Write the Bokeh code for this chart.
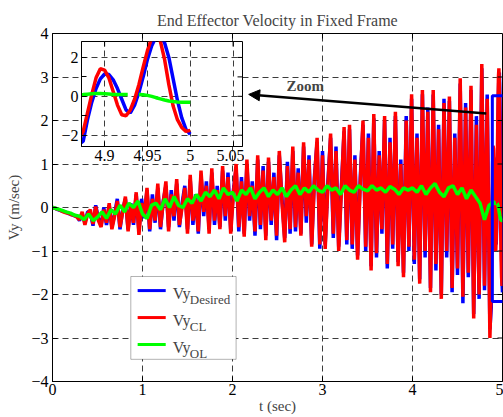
import numpy as np
from bokeh.plotting import figure
from bokeh.models import (ColumnDataSource, FixedTicker, Range1d,
                          Arrow, NormalHead, Label, BoxAnnotation)
from bokeh.embed import file_html
from bokeh.resources import INLINE

FONT = "Liberation Serif"

# ---- data -------------------------------------------------------------
# coarse samples (every 0.03 s) up to 4.86 s
t_coarse = np.round(np.arange(0.0, 4.861, 0.03), 3)

vy_desired_coarse = [
    0.0, -0.02, -0.05, -0.07, -0.09, -0.11, -0.14, -0.16, -0.19, -0.2,
    -0.3, -0.15, -0.35, -0.1, -0.1, -0.42, 0.05, -0.25, -0.4, 0.0,
    -0.4, 0.05, -0.45, -0.15, 0.2, -0.5, -0.05, 0.2, -0.5, 0.1,
    -0.4, 0.3, -0.55, 0.2, -0.25, 0.4, -0.55, 0.3, -0.35, 0.45,
    -0.5, 0.15, 0.5, -0.45, 0.4, -0.3, 0.55, -0.45, 0.1, 0.5,
    -0.5, 0.65, -0.4, 0.3, -0.6, 0.75, -0.2, 0.6, -0.5, 0.8,
    -0.4, 0.5, -0.45, 0.85, -0.3, 0.8, -0.5, 0.4, 0.9, -0.55,
    0.7, -0.6, 1.0, -0.3, 0.6, -0.65, 1.1, -0.5, 0.95, -0.65,
    1.05, -0.4, 0.8, -0.75, 1.2, 0.2, -0.7, 1.05, -0.6, 1.3,
    -0.55, 0.9, -0.6, 1.4, -0.35, 1.2, -0.85, 0.7, 1.5, -0.95,
    1.3, -0.85, 0.6, 1.6, -0.7, 1.4, -0.9, 0.5, 1.75, -0.85,
    1.8, -0.95, 1.2, -1.1, 0.7, 1.9, -1.0, 1.7, -1.35, 2.05,
    -1.15, 1.3, -0.6, 2.0, -1.4, 1.6, -0.95, 2.1, -1.25, 1.1,
    -1.5, 2.1, -1.0, 2.5, -1.3, 1.7, -1.65, 2.6, -1.15, 2.3,
    -1.85, 2.6, -1.45, 1.9, -2.0, 2.5, -1.15, 2.45, -1.95, 1.7,
    -1.55, 2.85, -2.2, 2.4, -1.6, 2.7, -2.45, 2.1, -2.1, 3.2,
    -1.9, 2.6, -2.8,
]

vy_cl_coarse = [
    0.0, -0.02, -0.04, -0.07, -0.1, -0.12, -0.13, -0.17, -0.18, -0.22,
    -0.28, -0.1, -0.4, -0.15, -0.05, -0.38, 0.02, -0.3, -0.45, -0.05,
    -0.35, 0.1, -0.5, -0.2, 0.15, -0.45, -0.1, 0.25, -0.55, 0.05,
    -0.35, 0.35, -0.63, 0.1, -0.2, 0.45, -0.5, 0.2, -0.3, 0.55,
    -0.45, 0.1, 0.6, -0.55, 0.3, -0.2, 0.65, -0.4, 0.0, 0.45,
    -0.6, 0.75, -0.3, 0.2, -0.55, 0.85, -0.1, 0.5, -0.6, 0.9,
    -0.3, 0.4, -0.5, 0.95, -0.2, 0.7, -0.6, 0.3, 1.0, -0.45,
    0.6, -0.67, 1.1, -0.2, 0.5, -0.55, 1.2, -0.4, 0.85, -0.75,
    1.15, -0.3, 0.7, -0.65, 1.3, 0.1, -0.8, 0.95, -0.5, 1.4,
    -0.45, 0.8, -0.65, 1.5, -0.2, 1.1, -0.9, 0.6, 1.6, -0.85,
    1.2, -0.95, 0.5, 1.7, -0.6, 1.3, -1.0, 0.4, 1.85, -0.75,
    1.9, -0.85, 1.1, -1.2, 0.6, 2.0, -0.9, 1.6, -1.45, 2.15,
    -1.05, 1.2, -0.5, 2.1, -1.3, 1.5, -0.85, 2.2, -1.35, 1.0,
    -1.6, 2.0, -0.9, 2.6, -1.2, 1.6, -1.75, 2.7, -1.0, 2.2,
    -1.95, 2.7, -1.3, 1.8, -2.1, 2.4, -1.0, 2.55, -1.85, 1.6,
    -1.4, 2.97, -2.05, 2.3, -1.5, 2.8, -2.55, 1.9, -2.0, 3.3,
    -1.8, 2.5, -3.0,
]

# fine samples (every 0.005 s) over the last part of the run
t_fine = np.round(np.arange(4.875, 5.0001, 0.005), 3)

vy_desired_fine = [
    -2.3, -1.2, -0.3, 0.4, 0.9, 1.15, 1.12, 0.85, 0.4, -0.15,
    -0.7, -0.85, -0.45, 0.2, 1.0, 1.9, 2.6, 3.05, 3.1, 2.75,
    2.0, 0.9, -0.2, -1.1, -1.7, -1.95,
]

vy_cl_fine = [
    -1.8, -0.85, 0.1, 0.95, 1.42, 1.35, 0.95, 0.25, -0.45, -0.95,
    -1.0, -0.7, -0.15, 0.6, 1.5, 2.35, 3.0, 3.2, 2.85, 1.9,
    0.6, -0.5, -1.2, -1.6, -1.8, -1.75,
]

# open-loop response
t_ol_coarse = np.round(np.arange(0.0, 4.851, 0.05), 3)
vy_ol_coarse = [
    0.0, -0.03, -0.06, -0.1, -0.13, -0.18, -0.2, -0.28, -0.15, -0.3,
    -0.22, -0.1, -0.25, -0.05, -0.15, 0.05, -0.1, 0.1, 0.0, 0.15,
    -0.15, -0.25, 0.05, 0.1, -0.05, 0.2, 0.0, 0.25, 0.05, 0.0,
    0.2, 0.1, 0.3, 0.15, 0.35, 0.25, 0.4, 0.2, 0.45, 0.3,
    0.35, 0.15, 0.4, 0.3, 0.45, 0.2, 0.35, 0.45, 0.25, 0.4,
    0.3, 0.45, 0.25, 0.4, 0.5, 0.3, 0.45, 0.35, 0.5, 0.4,
    0.35, 0.5, 0.4, 0.45, 0.3, 0.5, 0.4, 0.35, 0.5, 0.42,
    0.38, 0.5, 0.4, 0.45, 0.35, 0.48, 0.42, 0.3, 0.45, 0.4,
    0.45, 0.35, 0.5, 0.3, 0.45, 0.55, 0.35, 0.25, 0.45, 0.5,
    0.3, 0.45, 0.2, 0.4, 0.25, 0.1, -0.28, 0.05,
]
t_ol_fine = [4.875, 4.88, 4.885, 4.89, 4.895, 4.90, 4.905, 4.91, 4.915,
             4.92, 4.927, 4.933, 4.94, 4.945, 4.95, 4.955, 4.96, 4.965,
             4.97, 4.975, 4.98, 4.985, 4.99, 4.995, 5.0]
vy_ol_fine = [0.09, 0.11, 0.13, 0.14, 0.14, 0.13, 0.12, 0.1, 0.09,
              0.09, 0.09, np.nan, 0.09, 0.08, 0.05, 0.0, -0.07, -0.13,
              -0.19, -0.24, -0.27, -0.29, -0.3, -0.3, -0.3]

x_ticks = [0, 1, 2, 3, 4, 5]
y_ticks = [-4, -3, -2, -1, 0, 1, 2, 3, 4]
zoom_x_ticks = [4.9, 4.95, 5.0, 5.05]
zoom_x_labels = ["4.9", "4.95", "5", "5.05"]
zoom_y_ticks = [-2, 0, 2]
zoom_y_minor = [-1, 1]

# zoomed window marked on the main axes: left, right, bottom, top
zoom_box = dict(left=[4.887], right=[5.06], bottom=[-2.16], top=[2.57])
zoom_xlim = (4.873, 5.061)
zoom_ylim = (-2.58, 2.82)

src_d = ColumnDataSource(dict(t=np.concatenate([t_coarse, t_fine]),
                              v=vy_desired_coarse + vy_desired_fine))
src_cl = ColumnDataSource(dict(t=np.concatenate([t_coarse, t_fine]),
                               v=vy_cl_coarse + vy_cl_fine))
src_ol = ColumnDataSource(dict(t=np.concatenate([t_ol_coarse, t_ol_fine]),
                               v=vy_ol_coarse + vy_ol_fine))

BLUE, RED, GREEN = "#0000ff", "#ff0000", "#00ff00"
GRID = "#3c3c3c"
TICK_SIZE = "16px"
LW = 3.5
TICK_PX = 5
MAIN_FRAME = (450, 348)   # width, height in px
ZOOM_FRAME = (162, 105)


def style_axis(ax):
    ax.major_label_text_font = FONT
    ax.major_label_text_font_size = TICK_SIZE
    ax.major_label_text_color = "black"
    ax.axis_label_text_font = FONT
    ax.axis_label_text_font_size = "15px"
    ax.axis_label_text_font_style = "normal"
    ax.axis_line_color = "black"
    ax.major_tick_line_color = "black"
    ax.major_tick_in = TICK_PX
    ax.major_tick_out = 0
    ax.minor_tick_line_color = None


def box_ticks(fig, xr, yr, frame, xt, yt):
    """Inward tick marks on the top and right edges of the frame."""
    dx = (xr[1] - xr[0]) * TICK_PX / frame[0]
    dy = (yr[1] - yr[0]) * TICK_PX / frame[1]
    fig.segment(x0=xt, x1=xt, y0=[yr[1]] * len(xt), y1=[yr[1] - dy] * len(xt),
                color="black", line_width=1, level="overlay")
    fig.segment(x0=[xr[1]] * len(yt), x1=[xr[1] - dx] * len(yt), y0=yt, y1=yt,
                color="black", line_width=1, level="overlay")


def style_grid(fig):
    for g in (fig.xgrid[0], fig.ygrid[0]):
        g.grid_line_color = GRID
        g.grid_line_dash = "6 4"
        g.grid_line_width = 1


# ---- main axes --------------------------------------------------------
main_xr, main_yr = (0, 5), (-4, 4)
p = figure(width=503, height=417,
           x_range=Range1d(*main_xr), y_range=Range1d(*main_yr),
           output_backend="svg", toolbar_location=None,
           min_border_left=52, min_border_right=1, min_border_top=33,
           min_border_bottom=36, title="End Effector Velocity in Fixed Frame")
p.title.text_font = FONT
p.title.text_font_size = "16px"
p.title.text_font_style = "normal"
p.title.align = "center"
p.outline_line_color = "black"
p.background_fill_color = "white"
p.border_fill_color = "white"

p.xaxis.ticker = FixedTicker(ticks=x_ticks)
p.yaxis.ticker = FixedTicker(ticks=y_ticks)
p.xaxis.axis_label = "t (sec)"
p.yaxis.axis_label = "Vy (m/sec)"
for ax in (p.xaxis[0], p.yaxis[0]):
    style_axis(ax)
p.xaxis.major_label_standoff = 2
p.xaxis.axis_label_standoff = 0
p.yaxis.major_label_standoff = 4
p.yaxis.axis_label_standoff = 6
style_grid(p)

p.line("t", "v", source=src_d, color=BLUE, line_width=LW)
p.line("t", "v", source=src_cl, color=RED, line_width=LW)
p.line("t", "v", source=src_ol, color=GREEN, line_width=LW)

p.quad(source=ColumnDataSource(zoom_box), left="left", right="right",
       bottom="bottom", top="top", fill_alpha=0, line_color=BLUE, line_width=3)

box_ticks(p, main_xr, main_yr, MAIN_FRAME, x_ticks[1:-1], y_ticks[1:-1])

p.add_layout(Arrow(end=NormalHead(size=11, fill_color="black", line_color="black"),
                   x_start=4.82, y_start=2.16, x_end=2.18, y_end=2.6,
                   line_color="black", line_width=2.5))
p.add_layout(Label(x=2.6, y=2.8, text="Zoom", text_font=FONT, text_font_size="15px",
                   text_font_style="bold", text_baseline="middle"))

# legend with subscripted entries
p.add_layout(BoxAnnotation(left=0.87, right=2.04, top=-1.586, bottom=-3.49,
                           fill_color="white", fill_alpha=1, line_color="black",
                           line_width=1))
legend_rows = [(BLUE, "Desired", -1.91), (RED, "CL", -2.53), (GREEN, "OL", -3.15)]
p.segment(x0=[0.946] * 3, x1=[1.258] * 3, y0=[r[2] for r in legend_rows],
          y1=[r[2] for r in legend_rows], color=[r[0] for r in legend_rows],
          line_width=3, level="overlay")
for color, sub, yy in legend_rows:
    p.add_layout(Label(x=1.336, y=yy - 0.07, text="Vy", text_font=FONT,
                       text_font_size="16px", text_baseline="alphabetic", level="overlay"))
    p.add_layout(Label(x=1.525, y=yy - 0.21, text=sub, text_font=FONT,
                       text_font_size="13px", text_baseline="alphabetic", level="overlay"))

# ---- inset axes -------------------------------------------------------
ins = figure(width=186, height=129,
             x_range=Range1d(*zoom_xlim), y_range=Range1d(*zoom_ylim),
             output_backend="svg", toolbar_location=None,
             min_border_left=22, min_border_right=2,
             min_border_top=2, min_border_bottom=22)
ins.border_fill_alpha = 0
ins.background_fill_color = "white"
ins.outline_line_color = "black"
ins.xaxis.ticker = FixedTicker(ticks=zoom_x_ticks)
ins.xaxis.major_label_overrides = {k: v for k, v in zip(zoom_x_ticks, zoom_x_labels)}
ins.yaxis.ticker = FixedTicker(ticks=zoom_y_ticks, minor_ticks=zoom_y_minor)
for ax in (ins.xaxis[0], ins.yaxis[0]):
    style_axis(ax)
    ax.major_label_standoff = 3
ins.yaxis.minor_tick_line_color = "black"
ins.yaxis.minor_tick_in = TICK_PX
ins.yaxis.minor_tick_out = 0
style_grid(ins)
ins.line("t", "v", source=src_d, color=BLUE, line_width=LW)
ins.line("t", "v", source=src_cl, color=RED, line_width=LW)
ins.line("t", "v", source=src_ol, color=GREEN, line_width=LW)
box_ticks(ins, zoom_xlim, zoom_ylim, ZOOM_FRAME, zoom_x_ticks,
          sorted(zoom_y_ticks + zoom_y_minor))

# two independent roots, so the inset keeps its own borders; it floats over
# the upper-left part of the main axes
ins.styles = {"position": "absolute", "left": "58px", "top": "39px"}

open("out.html", "w").write(file_html([p, ins], INLINE))
